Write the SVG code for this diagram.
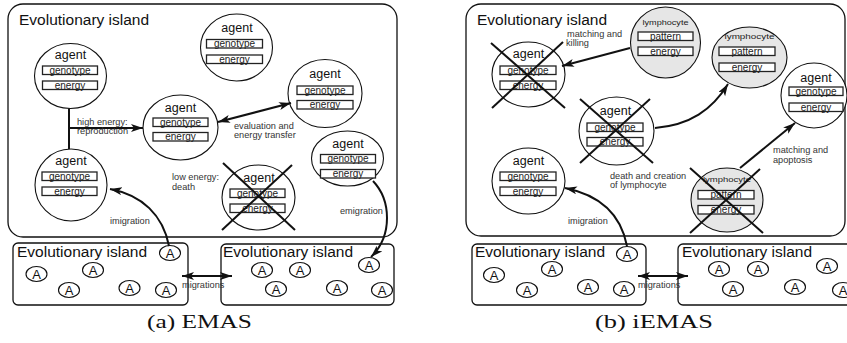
<svg xmlns="http://www.w3.org/2000/svg" width="847" height="343" viewBox="0 0 847 343">
<defs>
<style>
.isl{fill:#fff;stroke:#111;stroke-width:1.3}
.ttl{font-family:"Liberation Sans",Arial,sans-serif;font-size:15.5px;fill:#111}
.ag{fill:#fff;stroke:#111;stroke-width:1.1}
.ly{fill:#e6e6e6;stroke:#111;stroke-width:1.1}
.bx{fill:#fff;stroke:#222;stroke-width:1.3}
.at{font-family:"Liberation Sans",Arial,sans-serif;font-size:12.5px;fill:#111;text-anchor:middle}
.ft{font-family:"Liberation Sans",Arial,sans-serif;font-size:10px;fill:#222;text-anchor:middle}
.lt{font-family:"Liberation Sans",Arial,sans-serif;font-size:7px;fill:#222;text-anchor:middle}
.lb{font-family:"Liberation Sans",Arial,sans-serif;font-size:9.2px;fill:#333}
.ae{fill:#fff;stroke:#111;stroke-width:1.1}
.aa{font-family:"Liberation Sans",Arial,sans-serif;font-size:13px;fill:#111;text-anchor:middle}
.x{stroke:#111;stroke-width:2;fill:none}
.cn{stroke:#111;stroke-width:2;fill:none}
.cap{font-family:"Liberation Serif","Times New Roman",serif;font-size:19px;fill:#111}
</style>
<marker id="ah" markerUnits="userSpaceOnUse" markerWidth="13" markerHeight="9" refX="12" refY="4" orient="auto-start-reverse">
<path d="M0,0 L12,4 L0,8 L3,4 z" fill="#111"/>
</marker>
</defs>

<!-- ===== Panel (a) ===== -->
<g id="a-island-main">
<rect class="isl" x="8" y="4" width="389" height="233" rx="15"/>
<text class="ttl" x="19" y="25">Evolutionary island</text>
</g>
<g id="a-island-left">
<rect class="isl" x="13" y="243" width="175" height="62" rx="5"/>
<text class="ttl" x="17" y="257">Evolutionary island</text>
<ellipse class="ae" cx="36.5" cy="274" rx="10.5" ry="7.5"/><text class="aa" x="36.5" y="278.5">A</text>
<ellipse class="ae" cx="93" cy="270" rx="10.5" ry="7.5"/><text class="aa" x="93" y="274.5">A</text>
<ellipse class="ae" cx="69" cy="290" rx="10.5" ry="7.5"/><text class="aa" x="69" y="294.5">A</text>
<ellipse class="ae" cx="129.5" cy="288" rx="10.5" ry="7.5"/><text class="aa" x="129.5" y="292.5">A</text>
<ellipse class="ae" cx="166" cy="290" rx="10.5" ry="7.5"/><text class="aa" x="166" y="294.5">A</text>
<ellipse class="ae" cx="170" cy="253" rx="10.5" ry="7.5"/><text class="aa" x="170" y="257.5">A</text>
</g>
<g id="a-island-right">
<rect class="isl" x="221" y="244" width="173" height="61" rx="5"/>
<text class="ttl" x="223" y="257">Evolutionary island</text>
<ellipse class="ae" cx="262" cy="270" rx="10.5" ry="7.5"/><text class="aa" x="262" y="274.5">A</text>
<ellipse class="ae" cx="300" cy="270" rx="10.5" ry="7.5"/><text class="aa" x="300" y="274.5">A</text>
<ellipse class="ae" cx="276" cy="289" rx="10.5" ry="7.5"/><text class="aa" x="276" y="293.5">A</text>
<ellipse class="ae" cx="337" cy="288" rx="10.5" ry="7.5"/><text class="aa" x="337" y="292.5">A</text>
<ellipse class="ae" cx="382" cy="290" rx="10.5" ry="7.5"/><text class="aa" x="382" y="294.5">A</text>
<ellipse class="ae" cx="369" cy="265" rx="10.5" ry="7.5"/><text class="aa" x="369" y="269.5">A</text>
</g>

<g id="a-agent1">
<ellipse class="ag" cx="70.5" cy="76" rx="36" ry="32.5"/>
<text class="at" x="70.5" y="58.5">agent</text>
<rect class="bx" x="42.5" y="66" width="55" height="8.5"/><text class="ft" x="70" y="73.5">genotype</text>
<rect class="bx" x="42.5" y="81" width="55" height="8.5"/><text class="ft" x="70" y="88.5">energy</text>
</g>
<g id="a-agent2">
<ellipse class="ag" cx="180.5" cy="127.5" rx="37.5" ry="32.5"/>
<text class="at" x="180.5" y="112">agent</text>
<rect class="bx" x="153" y="118" width="55" height="8.5"/><text class="ft" x="180.5" y="125.5">genotype</text>
<rect class="bx" x="153" y="132.5" width="55" height="8.5"/><text class="ft" x="180.5" y="140">energy</text>
</g>
<g id="a-agent3">
<ellipse class="ag" cx="236.5" cy="47.5" rx="36" ry="33.5"/>
<text class="at" x="237" y="32">agent</text>
<rect class="bx" x="206.5" y="39.5" width="56" height="8.5"/><text class="ft" x="234.5" y="47">genotype</text>
<rect class="bx" x="206.5" y="55" width="56" height="8.5"/><text class="ft" x="234.5" y="62.5">energy</text>
</g>
<g id="a-agent4">
<ellipse class="ag" cx="325" cy="93.5" rx="37" ry="34"/>
<text class="at" x="325" y="78">agent</text>
<rect class="bx" x="297" y="86" width="56" height="8.5"/><text class="ft" x="325" y="93.5">genotype</text>
<rect class="bx" x="297" y="100.5" width="56" height="8.5"/><text class="ft" x="325" y="108">energy</text>
</g>
<g id="a-agent5">
<ellipse class="ag" cx="347.5" cy="158.5" rx="36" ry="27.5"/>
<text class="at" x="348" y="148">agent</text>
<rect class="bx" x="320.5" y="154.5" width="55" height="8.5"/><text class="ft" x="348" y="162">genotype</text>
<rect class="bx" x="320.5" y="169.5" width="55" height="8.5"/><text class="ft" x="348" y="177">energy</text>
</g>
<g id="a-agent6">
<ellipse class="ag" cx="71" cy="185" rx="36" ry="36"/>
<text class="at" x="71" y="165">agent</text>
<rect class="bx" x="42" y="172" width="55" height="8.5"/><text class="ft" x="69.5" y="179.5">genotype</text>
<rect class="bx" x="42" y="187" width="55" height="8.5"/><text class="ft" x="69.5" y="194.5">energy</text>
</g>
<g id="a-agent-dead">
<ellipse class="ag" cx="258.5" cy="197.5" rx="36.5" ry="32.5"/>
<text class="at" x="259" y="182">agent</text>
<rect class="bx" x="230" y="189" width="55" height="8.5"/><text class="ft" x="257.5" y="196.5">genotype</text>
<rect class="bx" x="230" y="204" width="55" height="8.5"/><text class="ft" x="257.5" y="211.5">energy</text>
<line class="x" x1="223" y1="163" x2="295" y2="230"/>
<line class="x" x1="292" y1="165" x2="222" y2="230"/>
</g>

<g id="a-connectors">
<line class="cn" x1="69" y1="108.5" x2="69" y2="149"/>
<line class="cn" x1="69" y1="128" x2="143" y2="128" marker-end="url(#ah)"/>
<line class="cn" x1="218" y1="122" x2="291" y2="103" marker-start="url(#ah)" marker-end="url(#ah)"/>
<path class="cn" d="M373,181 C391,200 393,235 371,257" marker-end="url(#ah)"/>
<path class="cn" d="M169,246 C163,215 142,195 110,189" marker-end="url(#ah)"/>
<line class="cn" x1="182" y1="276" x2="232" y2="276" marker-start="url(#ah)" marker-end="url(#ah)"/>
</g>
<g id="a-labels">
<text class="lb" x="77" y="125">high energy:</text>
<text class="lb" x="77" y="134">reproduction</text>
<text class="lb" x="234" y="129">evaluation and</text>
<text class="lb" x="234" y="138">energy transfer</text>
<text class="lb" x="172" y="180">low energy:</text>
<text class="lb" x="172" y="190">death</text>
<text class="lb" x="340" y="214">emigration</text>
<text class="lb" x="110" y="224">imigration</text>
<text class="lb" x="182" y="288">migrations</text>
</g>
<text class="cap" x="147" y="328" textLength="105" lengthAdjust="spacingAndGlyphs">(a) EMAS</text>

<!-- ===== Panel (b) ===== -->
<g id="b-island-main">
<rect class="isl" x="466" y="4" width="379" height="232" rx="15"/>
<text class="ttl" x="477" y="25">Evolutionary island</text>
</g>
<g id="b-island-left">
<rect class="isl" x="472" y="244" width="174" height="61" rx="5"/>
<text class="ttl" x="475" y="257">Evolutionary island</text>
<ellipse class="ae" cx="494" cy="275" rx="10.5" ry="7.5"/><text class="aa" x="494" y="279.5">A</text>
<ellipse class="ae" cx="552" cy="269" rx="10.5" ry="7.5"/><text class="aa" x="552" y="273.5">A</text>
<ellipse class="ae" cx="527" cy="290" rx="10.5" ry="7.5"/><text class="aa" x="527" y="294.5">A</text>
<ellipse class="ae" cx="588" cy="287" rx="10.5" ry="7.5"/><text class="aa" x="588" y="291.5">A</text>
<ellipse class="ae" cx="624" cy="289" rx="10.5" ry="7.5"/><text class="aa" x="624" y="293.5">A</text>
<ellipse class="ae" cx="627" cy="254" rx="10.5" ry="7.5"/><text class="aa" x="627" y="258.5">A</text>
</g>
<g id="b-island-right">
<rect class="isl" x="678" y="244" width="180" height="61" rx="5"/>
<text class="ttl" x="682" y="257">Evolutionary island</text>
<ellipse class="ae" cx="719" cy="269" rx="10.5" ry="7.5"/><text class="aa" x="719" y="273.5">A</text>
<ellipse class="ae" cx="758" cy="269" rx="10.5" ry="7.5"/><text class="aa" x="758" y="273.5">A</text>
<ellipse class="ae" cx="733" cy="289" rx="10.5" ry="7.5"/><text class="aa" x="733" y="293.5">A</text>
<ellipse class="ae" cx="795" cy="287" rx="10.5" ry="7.5"/><text class="aa" x="795" y="291.5">A</text>
<ellipse class="ae" cx="827" cy="266" rx="10.5" ry="7.5"/><text class="aa" x="827" y="270.5">A</text>
<ellipse class="ae" cx="843" cy="290" rx="10.5" ry="7.5"/><text class="aa" x="843" y="294.5">A</text>
</g>

<g id="b-agent-killed">
<ellipse class="ag" cx="528.5" cy="74.5" rx="36.5" ry="32.5"/>
<text class="at" x="528.5" y="58">agent</text>
<rect class="bx" x="500" y="66" width="56" height="8.5"/><text class="ft" x="528" y="73.5">genotype</text>
<rect class="bx" x="500" y="81" width="56" height="8.5"/><text class="ft" x="528" y="88.5">energy</text>
<line class="x" x1="491" y1="43" x2="565" y2="108"/>
<line class="x" x1="563" y1="42" x2="492" y2="108"/>
</g>
<g id="b-lymphocyte1">
<ellipse class="ly" cx="665.5" cy="42.5" rx="35" ry="35.5"/>
<text class="lt" x="665.5" y="25" textLength="46" lengthAdjust="spacingAndGlyphs">lymphocyte</text>
<rect class="bx" x="638" y="32" width="55" height="8.5"/><text class="ft" x="665.5" y="39.5">pattern</text>
<rect class="bx" x="638" y="47" width="55" height="8.5"/><text class="ft" x="665.5" y="54.5">energy</text>
</g>
<g id="b-lymphocyte2">
<ellipse class="ly" cx="749.5" cy="57.5" rx="37.5" ry="30.5"/>
<text class="lt" x="749.5" y="39" textLength="50" lengthAdjust="spacingAndGlyphs">lymphocyte</text>
<rect class="bx" x="719" y="47" width="56" height="8.5"/><text class="ft" x="747" y="54.5">pattern</text>
<rect class="bx" x="719" y="63" width="56" height="8.5"/><text class="ft" x="747" y="70.5">energy</text>
</g>
<g id="b-agent2">
<ellipse class="ag" cx="814" cy="95.5" rx="33" ry="32.5"/>
<text class="at" x="816" y="82">agent</text>
<rect class="bx" x="789" y="87" width="54" height="8.5"/><text class="ft" x="816" y="94.5">genotype</text>
<rect class="bx" x="789" y="103" width="54" height="8.5"/><text class="ft" x="816" y="110.5">energy</text>
</g>
<g id="b-agent-dead">
<ellipse class="ag" cx="616.5" cy="131" rx="37.5" ry="34"/>
<text class="at" x="615.5" y="115">agent</text>
<rect class="bx" x="587" y="123" width="56" height="8.5"/><text class="ft" x="615" y="130.5">genotype</text>
<rect class="bx" x="587" y="137.5" width="56" height="8.5"/><text class="ft" x="615" y="145">energy</text>
<line class="x" x1="580" y1="99" x2="653" y2="163"/>
<line class="x" x1="650" y1="99" x2="580" y2="163"/>
</g>
<g id="b-lymphocyte-dead">
<ellipse class="ly" cx="727" cy="200" rx="36" ry="32"/>
<text class="lt" x="727" y="182" textLength="48" lengthAdjust="spacingAndGlyphs">lymphocyte</text>
<rect class="bx" x="698" y="190.5" width="56" height="8.5"/><text class="ft" x="726" y="198">pattern</text>
<rect class="bx" x="698" y="205.5" width="56" height="8.5"/><text class="ft" x="726" y="213">energy</text>
<line class="x" x1="690" y1="168" x2="763" y2="233"/>
<line class="x" x1="760" y1="169" x2="690" y2="233"/>
</g>
<g id="b-agent4">
<ellipse class="ag" cx="528.5" cy="181" rx="36.5" ry="33"/>
<text class="at" x="528.5" y="165">agent</text>
<rect class="bx" x="500" y="172" width="56" height="8.5"/><text class="ft" x="528" y="179.5">genotype</text>
<rect class="bx" x="500" y="187" width="56" height="8.5"/><text class="ft" x="528" y="194.5">energy</text>
</g>

<g id="b-connectors">
<line class="cn" x1="630" y1="48" x2="562" y2="66" marker-end="url(#ah)"/>
<path class="cn" d="M655,128 C690,125 712,110 728,84" marker-end="url(#ah)"/>
<line class="cn" x1="740" y1="168" x2="795" y2="123" marker-end="url(#ah)"/>
<path class="cn" d="M627,246 C621,215 600,195 565,188" marker-end="url(#ah)"/>
<line class="cn" x1="638" y1="276" x2="688" y2="276" marker-start="url(#ah)" marker-end="url(#ah)"/>
</g>
<g id="b-labels">
<text class="lb" x="567" y="37">matching and</text>
<text class="lb" x="566" y="46">killing</text>
<text class="lb" x="610" y="179">death and creation</text>
<text class="lb" x="610" y="188">of lymphocyte</text>
<text class="lb" x="773" y="153">matching and</text>
<text class="lb" x="773" y="163">apoptosis</text>
<text class="lb" x="568" y="224">imigration</text>
<text class="lb" x="638" y="288">migrations</text>
</g>
<text class="cap" x="595" y="328" textLength="118" lengthAdjust="spacingAndGlyphs">(b) iEMAS</text>
</svg>
